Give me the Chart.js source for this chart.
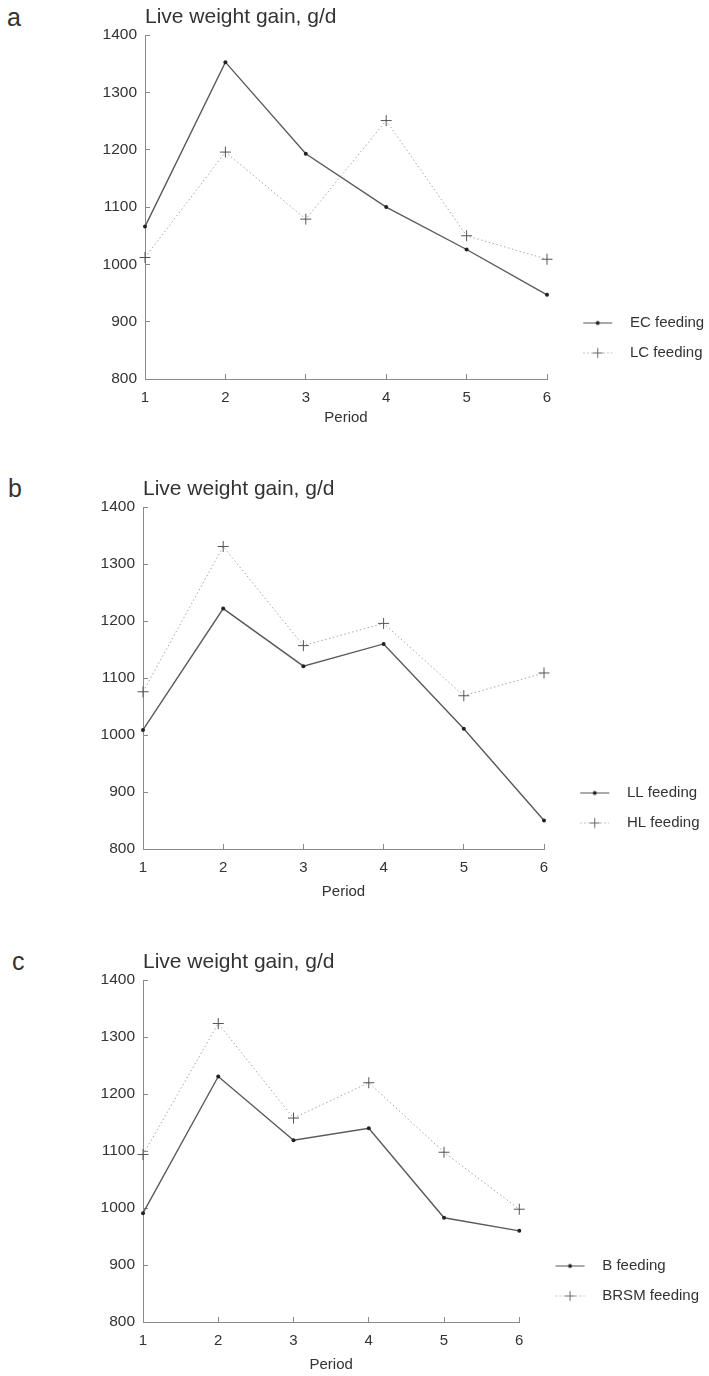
<!DOCTYPE html>
<html>
<head>
<meta charset="utf-8">
<script src="https://cdn.jsdelivr.net/npm/chart.js@4.4.1/dist/chart.umd.min.js"></script>
<style>
    html, body { margin: 0; padding: 0; background: #fff; overflow: hidden; }
    body { width: 709px; height: 1376px; position: relative; font-family: "Liberation Sans", Arial, sans-serif; }
    .panel { position: absolute; left: 0; width: 709px; }
    .letter { position: absolute; font-size: 25px; color: #333; line-height: 1; }
</style>
</head>
<body>
<div class="letter" style="left:7px; top:5px;">a</div>
<div class="letter" style="left:8px; top:476px;">b</div>
<div class="letter" style="left:12px; top:949px;">c</div>

<div class="panel" style="top:0px; height:431px;"><canvas id="chart-a"></canvas></div>
<div class="panel" style="top:472px; height:433px;"><canvas id="chart-b"></canvas></div>
<div class="panel" style="top:945px; height:431px;"><canvas id="chart-c"></canvas></div>

<script>
"use strict";

const periods = ['1', '2', '3', '4', '5', '6'];

const ecFeeding = [1066, 1353, 1193, 1100, 1026, 947];
const lcFeeding = [1012, 1196, 1079, 1251, 1050, 1009];

const llFeeding = [1009, 1222, 1121, 1160, 1011, 850];
const hlFeeding = [1076, 1331, 1157, 1196, 1069, 1109];

const bFeeding = [991, 1231, 1119, 1140, 983, 960];
const brsmFeeding = [1094, 1324, 1158, 1220, 1098, 998];

const Y_MIN = 800;
const Y_MAX = 1400;
const Y_STEP = 100;

const FONT = '"Liberation Sans", Arial, sans-serif';
const TEXT_COLOR = '#333';
const AXIS_COLOR = '#8a8a8a';

Chart.defaults.font.family = FONT;
Chart.defaults.color = TEXT_COLOR;

// small legend samples: line with its marker
function legendSample(dotted) {
    const c = document.createElement('canvas');
    c.width = 60;
    c.height = 16;
    const g = c.getContext('2d');
    g.lineWidth = 1;
    if (dotted) {
        g.strokeStyle = '#aaa';
        g.setLineDash([1.5, 2.5]);
    } else {
        g.strokeStyle = '#555';
    }
    g.beginPath();
    g.moveTo(21, 8.5);
    g.lineTo(50, 8.5);
    g.stroke();
    g.setLineDash([]);
    if (dotted) {
        g.strokeStyle = '#666';
        g.beginPath();
        g.moveTo(30.5, 8.5); g.lineTo(40.5, 8.5);
        g.moveTo(35.5, 3.5); g.lineTo(35.5, 13.5);
        g.stroke();
    } else {
        g.fillStyle = '#222';
        g.beginPath();
        g.arc(35.5, 8.5, 2, 0, Math.PI * 2);
        g.fill();
    }
    return c;
}

const solidSample = legendSample(false);
const dottedSample = legendSample(true);

// keep the legend next to the lower part of the plot, not the x axis
const legendToPlot = {
    id: 'legendToPlot',
    afterLayout: function (chart) {
        if (chart.legend) {
            chart.legend.bottom = chart.chartArea.bottom - 4;
        }
    }
};

function makeChart(id, leftPad, rightEdge, xAxisHeight, xTitlePadBottom, solidLabel, solidData, dottedLabel, dottedData) {
    const ctx = document.getElementById(id).getContext('2d');
    return new Chart(ctx, {
        type: 'line',
        plugins: [legendToPlot],
        data: {
            labels: periods,
            datasets: [{
                label: solidLabel,
                data: solidData,
                borderColor: '#5a5a5a',
                borderWidth: 1.4,
                pointStyle: 'circle',
                pointRadius: 2,
                pointBackgroundColor: '#222',
                pointBorderColor: '#222',
                pointBorderWidth: 0,
                tension: 0,
                clip: false
            }, {
                label: dottedLabel,
                data: dottedData,
                borderColor: '#a5a5a5',
                borderWidth: 1,
                borderDash: [1.5, 2.5],
                pointStyle: 'cross',
                pointRadius: 5.5,
                pointBorderColor: '#555',
                pointBorderWidth: 1,
                tension: 0,
                clip: false
            }]
        },
        options: {
            responsive: true,
            maintainAspectRatio: false,
            animation: false,
            layout: {
                padding: { left: leftPad, right: 0, top: 0, bottom: 0 }
            },
            scales: {
                x: {
                    offset: false,
                    grid: {
                        drawOnChartArea: false,
                        drawTicks: true,
                        tickLength: -5,
                        color: AXIS_COLOR
                    },
                    border: { display: true, color: AXIS_COLOR, width: 1 },
                    ticks: {
                        padding: 15,
                        color: TEXT_COLOR,
                        font: { size: 15 },
                        maxRotation: 0
                    },
                    title: {
                        display: true,
                        text: 'Period',
                        color: TEXT_COLOR,
                        font: { size: 15 },
                        padding: { top: 0, bottom: xTitlePadBottom }
                    },
                    afterFit: function (scale) {
                        scale.height = xAxisHeight;
                    }
                },
                y: {
                    min: Y_MIN,
                    max: Y_MAX,
                    grid: {
                        drawOnChartArea: false,
                        drawTicks: true,
                        tickLength: -5,
                        color: AXIS_COLOR
                    },
                    border: { display: true, color: AXIS_COLOR, width: 1 },
                    ticks: {
                        stepSize: Y_STEP,
                        padding: 13,
                        color: TEXT_COLOR,
                        font: { size: 15.5 },
                        callback: function (value) {
                            return String(value);
                        }
                    },
                    afterFit: function (scale) {
                        scale.width = 45;
                    }
                }
            },
            plugins: {
                title: {
                    display: true,
                    text: 'Live weight gain, g/d',
                    align: 'start',
                    fullSize: false,
                    color: TEXT_COLOR,
                    font: { size: 21, weight: 'normal' },
                    padding: { top: 5, bottom: 5 }
                },
                legend: {
                    display: true,
                    position: 'right',
                    align: 'end',
                    maxWidth: 709 - rightEdge,
                    labels: {
                        usePointStyle: true,
                        pointStyleWidth: 60.5,
                        padding: 15,
                        color: TEXT_COLOR,
                        font: { size: 15 },
                        generateLabels: function (chart) {
                            const items = Chart.defaults.plugins.legend.labels.generateLabels(chart);
                            items.forEach(function (item, i) {
                                item.pointStyle = i === 0 ? solidSample : dottedSample;
                            });
                            return items;
                        }
                    }
                },
                tooltip: { enabled: false }
            }
        }
    });
}

const chartA = makeChart('chart-a', 100, 547, 52, 4, 'EC feeding', ecFeeding, 'LC feeding', lcFeeding);
const chartB = makeChart('chart-b', 98, 544, 56, 4, 'LL feeding', llFeeding, 'HL feeding', hlFeeding);
const chartC = makeChart('chart-c', 98, 519, 54, 2, 'B feeding', bFeeding, 'BRSM feeding', brsmFeeding);
</script>
</body>
</html>
